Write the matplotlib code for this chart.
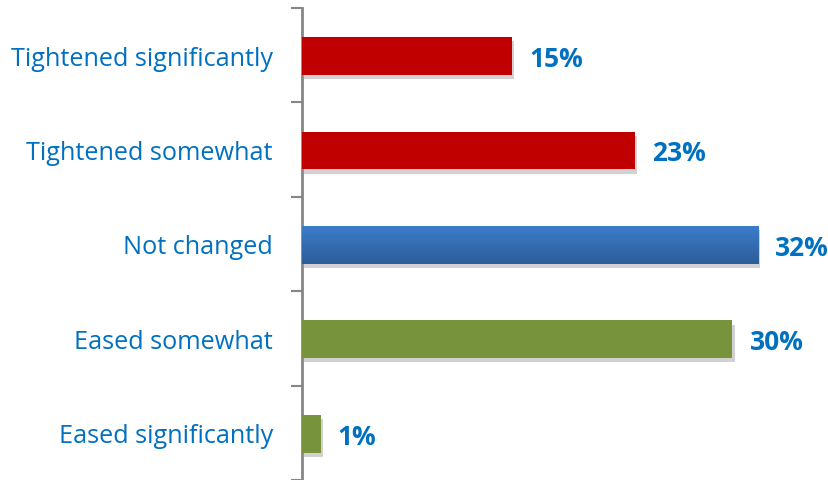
import numpy as np
import matplotlib.pyplot as plt
import matplotlib.patheffects as pe
from matplotlib.colors import LinearSegmentedColormap

# data
categories = ['Tightened significantly', 'Tightened somewhat', 'Not changed',
              'Eased somewhat', 'Eased significantly']
values = [14.7, 23.3, 31.9, 30.1, 1.3]
labels = ['15%', '23%', '32%', '30%', '1%']
colors = ['#C00000', '#C00000', '#3A78C4', '#77933C', '#77933C']

W, H = 829, 481
fig = plt.figure(figsize=(W / 100, H / 100), dpi=100)
ax = fig.add_axes([302 / W, 0, 1 - 302 / W, (481 - 9) / H])

y = np.arange(len(categories))
shadow = [pe.SimplePatchShadow(offset=(1.5, -3), shadow_rgbFace='#000000', alpha=0.18), pe.Normal()]
bars = ax.barh(y + 0.01, values, height=0.4, color=colors, zorder=3)
for b in bars:
    b.set_path_effects(shadow)

# gradient on the blue bar
blue = bars[2]
cmap = LinearSegmentedColormap.from_list('bl', ['#3C7DCA', '#2D5C9A'])
x0, y0 = blue.get_x(), blue.get_y()
im = ax.imshow(np.linspace(0, 1, 100).reshape(-1, 1), cmap=cmap, aspect='auto',
               extent=[x0, x0 + blue.get_width(), y0 + blue.get_height(), y0],
               zorder=4)
im.set_clip_path(blue)

# value labels to the right of the bars
for v, lab, yy in zip(values, labels, y):
    ax.text(v + 1.2, yy + 0.035, lab, va='center', ha='left', fontsize=19,
            fontweight='bold', color='#0070C0', family='Open Sans')

ax.set_xlim(0, (W - 302) / 14.3)
ax.set_ylim(len(categories) - 0.5, -0.5)
ax.set_yticks(y)
ax.set_yticklabels(categories, fontsize=18.2, color='#0070C0', family='Open Sans')
ax.set_yticks(np.arange(-0.5, len(categories)), minor=True)
ax.tick_params(axis='y', which='major', length=0, pad=21)
ax.tick_params(axis='y', which='minor', length=8, width=1.5, color='#868686')
ax.set_xticks([])
for s in ['top', 'right', 'bottom']:
    ax.spines[s].set_visible(False)
ax.spines['left'].set_color('#868686')
ax.spines['left'].set_linewidth(2)

plt.savefig('out.png', dpi=100)
